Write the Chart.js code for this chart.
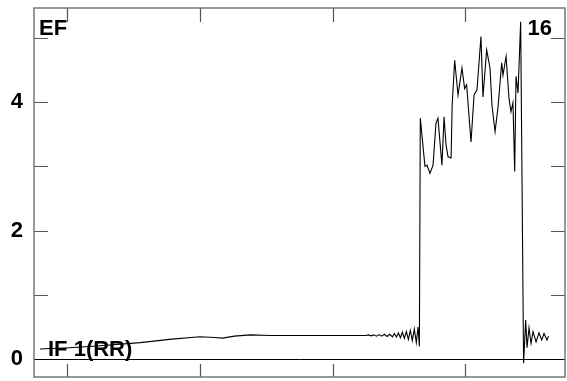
<!DOCTYPE html>
<html>
<head>
<meta charset="utf-8">
<script src="https://cdn.jsdelivr.net/npm/chart.js@4/dist/chart.umd.min.js"></script>
<style>
  html, body { margin: 0; padding: 0; background: #fff; }
  #wrap { width: 567px; height: 381px; }
</style>
</head>
<body>
<div id="wrap"><canvas id="efChart" width="567" height="381"></canvas></div>
<script>
// sample index along the trace
const sampleX = [
  4.5, 27, 50, 80, 102, 125, 136, 142, 151, 163, 178, 200, 223, 240,
  250, 252, 254, 256, 258, 260, 262, 264, 266, 268, 270, 271.5, 273, 274.5, 276,
  277.5, 279, 280.5, 282, 283.5, 285, 286.5, 288, 289.3, 290.3,
  291, 294.5, 296, 298.3, 300.6, 302.8, 304.3, 307.3, 308.9, 310.4, 311.9, 314.2,
  315, 316.9, 319.4, 322.4, 324.4, 325.9, 329.2, 331.5, 333.7, 336.7, 338.2, 341,
  343.5, 345, 347.3, 349.5, 352.3, 353.3, 355.6, 357.8, 359.3, 360.8, 362.1, 363.1,
  364.6, 366.6, 368.8, 370.4, 371.4, 372.9, 374.4, 375.9, 378.2, 380.4, 382.5,
  384.2, 386.4, 387.6
];

// EF value at each sample
const efValues = [
  0.16, 0.18, 0.21, 0.26, 0.31, 0.35, 0.34, 0.33, 0.36, 0.38, 0.37, 0.37, 0.37, 0.37,
  0.37, 0.38, 0.365, 0.38, 0.36, 0.385, 0.36, 0.39, 0.355, 0.39, 0.35, 0.40, 0.345, 0.41, 0.335,
  0.42, 0.325, 0.43, 0.31, 0.45, 0.29, 0.47, 0.26, 0.50, 0.20,
  3.75, 3.00, 3.02, 2.89, 3.02, 3.67, 3.75, 3.02, 3.77, 3.33, 3.15, 3.13,
  3.95, 4.65, 4.11, 4.53, 4.21, 4.27, 3.38, 4.11, 4.19, 5.02, 4.08, 4.81,
  4.53, 3.95, 3.54, 3.91, 4.61, 4.42, 4.71, 4.06, 3.85, 3.99, 2.92, 4.40,
  4.14, 5.25, -0.06, 0.61, 0.18, 0.49, 0.25, 0.43, 0.27, 0.41, 0.30,
  0.40, 0.30, 0.36
];

// axis ticks
const xTicks = [25, 125, 225, 325];
const yTicks = [0, 1, 2, 3, 4, 5];
const yLabelled = [0, 2, 4];

// corner labels
const labelTopLeft = 'EF';
const labelTopRight = '16';
const labelBottomLeft = 'IF 1(RR)';

const FONT = 'bold 22px "Liberation Sans", Arial, sans-serif';

// Frame, inward ticks, zero line and corner labels
const framePlugin = {
  id: 'frame',
  afterDraw(chart) {
    const { ctx, chartArea: a, scales } = chart;
    const x = scales.x, y = scales.y;
    ctx.save();

    // zero line
    const y0 = Math.round(y.getPixelForValue(0)) + 0.5;
    ctx.strokeStyle = '#000';
    ctx.lineWidth = 1;
    ctx.beginPath();
    ctx.moveTo(a.left, y0);
    ctx.lineTo(a.right, y0);
    ctx.stroke();

    // ticks (pointing inward)
    ctx.strokeStyle = '#555';
    ctx.lineWidth = 1.2;
    ctx.beginPath();
    yTicks.forEach(v => {
      if (v === 0) return;
      const py = Math.round(y.getPixelForValue(v)) + 0.5;
      ctx.moveTo(a.left, py); ctx.lineTo(a.left + 14, py);
      ctx.moveTo(a.right, py); ctx.lineTo(a.right - 14, py);
    });
    xTicks.forEach(v => {
      const px = Math.round(x.getPixelForValue(v)) + 0.5;
      ctx.moveTo(px, a.top); ctx.lineTo(px, a.top + 14);
      ctx.moveTo(px, a.bottom); ctx.lineTo(px, a.bottom - 13);
    });
    ctx.stroke();

    // frame
    ctx.strokeStyle = '#777';
    ctx.lineWidth = 1.5;
    ctx.strokeRect(a.left, a.top, a.right - a.left, a.bottom - a.top);

    // labels
    ctx.fillStyle = '#000';
    ctx.font = FONT;
    ctx.textBaseline = 'alphabetic';
    ctx.textAlign = 'left';
    ctx.fillText(labelTopLeft, a.left + 5, a.top + 27);
    ctx.fillText(labelBottomLeft, a.left + 14, y0 - 4);
    ctx.textAlign = 'right';
    ctx.fillText(labelTopRight, a.right - 13, a.top + 27);
    ctx.restore();
  }
};

new Chart(document.getElementById('efChart'), {
  type: 'line',
  data: {
    datasets: [{
      data: sampleX.map((v, i) => ({ x: v, y: efValues[i] })),
      borderColor: '#000',
      borderWidth: 1.1,
      pointRadius: 0,
      tension: 0,
      fill: false,
    }],
  },
  options: {
    responsive: false,
    devicePixelRatio: 1,
    animation: false,
    layout: { padding: { top: 8, right: 2, bottom: 4, left: 0 } },
    plugins: { legend: { display: false }, tooltip: { enabled: false } },
    scales: {
      x: {
        type: 'linear',
        min: 0,
        max: 400,
        display: false,
      },
      y: {
        type: 'linear',
        min: -0.275,
        max: 5.463,
        afterBuildTicks: s => { s.ticks = yTicks.map(v => ({ value: v })); },
        afterFit: s => { s.width = 34; s.paddingTop = 0; s.paddingBottom = 0; },
        grid: { display: false, drawTicks: false },
        border: { display: false },
        ticks: {
          padding: 11,
          color: '#000',
          font: { family: '"Liberation Sans", Arial, sans-serif', size: 22, weight: 'bold' },
          callback: v => (yLabelled.includes(v) ? String(v) : ''),
        },
      },
    },
  },
  plugins: [framePlugin],
});
</script>
</body>
</html>
